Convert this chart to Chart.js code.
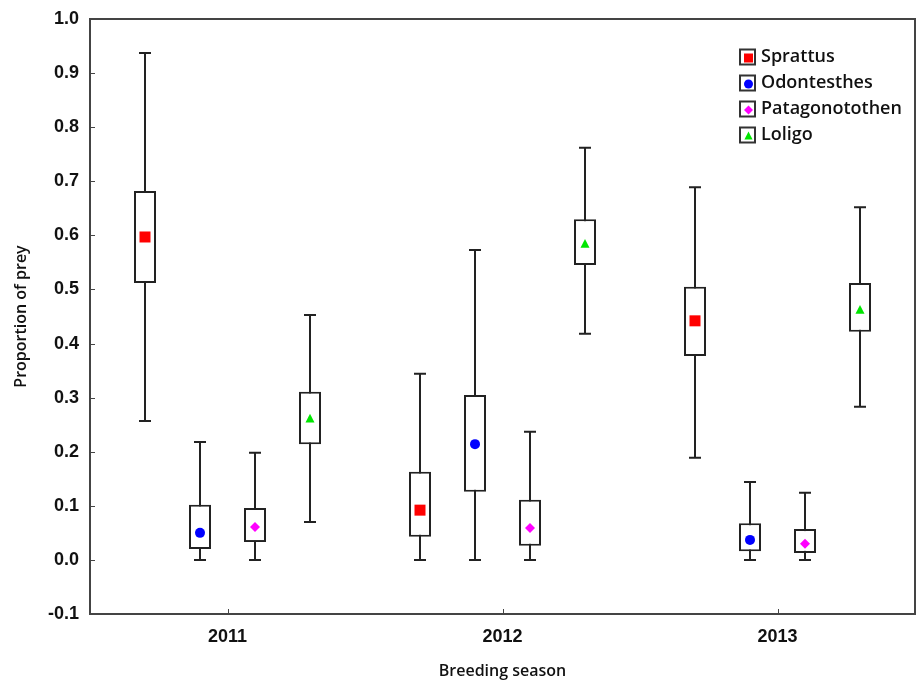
<!DOCTYPE html>
<html>
<head>
<meta charset="utf-8">
<script src="https://cdn.jsdelivr.net/npm/chart.js@4.4.1/dist/chart.umd.min.js"></script>
<style>
  html, body { margin: 0; padding: 0; background: #fff; }
  #wrap { width: 917px; height: 681px; }
</style>
</head>
<body>
<div id="wrap"><canvas id="myChart" width="917" height="681"></canvas></div>
<script>
// categories
const years = ['2011', '2012', '2013'];
const species = ['Sprattus', 'Odontesthes', 'Patagonotothen', 'Loligo'];
const markerColors = ['#ff0000', '#0000ff', '#ff00ff', '#00e600'];
const markerShapes = ['square', 'circle', 'diamond', 'triangle'];

// values per species (rows) and year (columns)
const means = [
  [0.597, 0.092, 0.442],
  [0.050, 0.214, 0.037],
  [0.061, 0.059, 0.030],
  [0.261, 0.584, 0.462]
];
const boxLow = [
  [0.512, 0.043, 0.377],
  [0.020, 0.126, 0.016],
  [0.033, 0.026, 0.013],
  [0.214, 0.545, 0.422]
];
const boxHigh = [
  [0.682, 0.163, 0.505],
  [0.102, 0.305, 0.068],
  [0.096, 0.111, 0.057],
  [0.311, 0.630, 0.512]
];
const whiskerLow = [
  [0.257, 0.000, 0.189],
  [0.000, 0.000, 0.000],
  [0.000, 0.000, 0.000],
  [0.070, 0.418, 0.283]
];
const whiskerHigh = [
  [0.937, 0.344, 0.689],
  [0.218, 0.573, 0.144],
  [0.198, 0.237, 0.124],
  [0.453, 0.762, 0.652]
];

const lineColor = '#222';

function drawMarker(ctx, shape, color, x, y, s) {
  ctx.save();
  ctx.fillStyle = color;
  ctx.beginPath();
  if (shape === 'square') {
    ctx.rect(x - s, y - s, 2 * s, 2 * s);
  } else if (shape === 'circle') {
    ctx.arc(x, y, s, 0, Math.PI * 2);
  } else if (shape === 'diamond') {
    ctx.moveTo(x, y - s);
    ctx.lineTo(x + s, y);
    ctx.lineTo(x, y + s);
    ctx.lineTo(x - s, y);
    ctx.closePath();
  } else {
    ctx.moveTo(x, y - s);
    ctx.lineTo(x + s * 0.9, y + s * 0.75);
    ctx.lineTo(x - s * 0.9, y + s * 0.75);
    ctx.closePath();
  }
  ctx.fill();
  ctx.restore();
}

// whiskers behind the boxes, means on top
const whiskerPlugin = {
  id: 'whiskers',
  beforeDatasetsDraw(chart) {
    const ctx = chart.ctx;
    const y = chart.scales.y;
    ctx.save();
    ctx.strokeStyle = lineColor;
    ctx.lineWidth = 2;
    species.forEach((sp, i) => {
      chart.getDatasetMeta(i).data.forEach((bar, j) => {
        const top = y.getPixelForValue(whiskerHigh[i][j]);
        const bot = y.getPixelForValue(whiskerLow[i][j]);
        ctx.beginPath();
        ctx.moveTo(bar.x, top);
        ctx.lineTo(bar.x, bot);
        ctx.moveTo(bar.x - 6, top);
        ctx.lineTo(bar.x + 6, top);
        ctx.moveTo(bar.x - 6, bot);
        ctx.lineTo(bar.x + 6, bot);
        ctx.stroke();
      });
    });
    ctx.restore();
  },
  afterDatasetsDraw(chart) {
    const ctx = chart.ctx;
    const y = chart.scales.y;
    species.forEach((sp, i) => {
      chart.getDatasetMeta(i).data.forEach((bar, j) => {
        const size = markerShapes[i] === 'square' ? 5.5 : 5;
        drawMarker(ctx, markerShapes[i], markerColors[i], bar.x, y.getPixelForValue(means[i][j]), size);
      });
    });
  },
  afterDraw(chart) {
    const ctx = chart.ctx;
    const a = chart.chartArea;
    ctx.save();
    ctx.strokeStyle = '#444';
    ctx.lineWidth = 2;
    ctx.strokeRect(a.left, a.top, a.right - a.left, a.bottom - a.top);
    // inward tick marks
    ctx.lineWidth = 1;
    ctx.beginPath();
    chart.scales.y.ticks.forEach((t, k) => {
      const py = Math.round(chart.scales.y.getPixelForTick(k)) + 0.5;
      ctx.moveTo(a.left, py);
      ctx.lineTo(a.left + 5, py);
    });
    chart.scales.x.ticks.forEach((t, k) => {
      const px = Math.round(chart.scales.x.getPixelForTick(k)) + 0.5;
      ctx.moveTo(px, a.bottom);
      ctx.lineTo(px, a.bottom - 5);
    });
    ctx.stroke();

    // legend
    const lx = 740, ly0 = 57, step = 26;
    ctx.font = '600 18px "Open Sans"';
    ctx.textBaseline = 'middle';
    ctx.textAlign = 'left';
    species.forEach((sp, i) => {
      const cy = ly0 + i * step;
      ctx.strokeStyle = '#333';
      ctx.lineWidth = 2;
      ctx.strokeRect(lx, cy - 7.5, 15, 15);
      drawMarker(ctx, markerShapes[i], markerColors[i], lx + 8.5, cy + 1, 4.5);
      ctx.fillStyle = '#111';
      ctx.fillText(sp, lx + 21, cy);
    });
    ctx.restore();
  }
};

const ctx = document.getElementById('myChart').getContext('2d');
new Chart(ctx, {
  type: 'bar',
  data: {
    labels: years,
    datasets: species.map((sp, i) => ({
      label: sp,
      data: years.map((yr, j) => [boxLow[i][j], boxHigh[i][j]]),
      backgroundColor: '#fff',
      borderColor: lineColor,
      borderWidth: 2,
      borderSkipped: false,
      categoryPercentage: 0.8,
      barPercentage: 0.4
    }))
  },
  options: {
    responsive: false,
    animation: false,
    layout: { padding: { top: 19, right: 2, left: 0, bottom: 0 } },
    plugins: {
      legend: { display: false },
      tooltip: { enabled: false }
    },
    scales: {
      x: {
        grid: { display: false },
        border: { display: false },
        ticks: {
          color: '#111',
          font: { family: 'Liberation Sans', size: 18, weight: 'bold' },
          padding: 4
        },
        title: {
          display: true,
          text: 'Breeding season',
          color: '#111',
          font: { family: 'Open Sans', size: 16, weight: '600' },
          padding: { top: 4, bottom: 0 }
        },
        afterFit(s) { s.height = 67; }
      },
      y: {
        min: -0.1,
        max: 1.0,
        grid: { display: false },
        border: { display: false },
        ticks: {
          stepSize: 0.1,
          color: '#111',
          font: { family: 'Liberation Sans', size: 18, weight: 'bold' },
          padding: 3,
          callback: v => v.toFixed(1)
        },
        title: {
          display: true,
          text: 'Proportion of prey',
          color: '#111',
          font: { family: 'Open Sans', size: 16, weight: '600' },
          padding: { top: 12, bottom: 4 }
        },
        afterFit(s) { s.width = 90; }
      }
    }
  },
  plugins: [whiskerPlugin]
});
</script>
</body>
</html>
